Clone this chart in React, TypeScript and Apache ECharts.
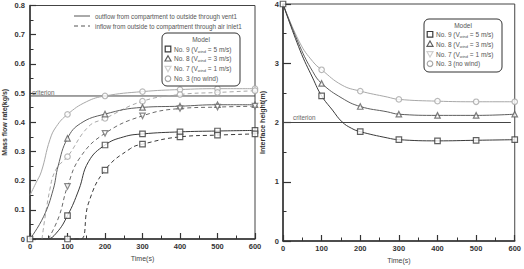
import React, { useEffect, useRef } from "react";
import * as echarts from "echarts";

// ---------- data ----------
const markerTimes = [100, 200, 300, 400, 500, 600];

// Left panel: mass flow rate (kg/s)
const no9OutCurveT = [0, 45, 70, 100, 130, 156, 200, 250, 300, 400, 500, 600];
const no9OutCurveV = [0, 0, 0.02, 0.08, 0.168, 0.265, 0.322, 0.35, 0.36, 0.367, 0.37, 0.372];
const no9InCurveT = [100, 135, 156, 200, 268, 300, 400, 500, 600];
const no9InCurveV = [0, 0, 0.123, 0.236, 0.31, 0.325, 0.35, 0.356, 0.36];
const no8OutCurveT = [0, 36, 62, 75, 100, 135, 200, 300, 400, 500, 600];
const no8OutCurveV = [0, 0.076, 0.17, 0.25, 0.345, 0.396, 0.428, 0.451, 0.455, 0.46, 0.46];
const no7InCurveT = [49, 77, 100, 135, 200, 300, 400, 500, 600];
const no7InCurveV = [0, 0.076, 0.18, 0.282, 0.362, 0.422, 0.447, 0.452, 0.455];
const no3OutCurveT = [0, 15, 30, 53, 70, 100, 150, 200, 300, 400, 500, 600];
const no3OutCurveV = [0.15, 0.19, 0.23, 0.34, 0.385, 0.427, 0.47, 0.49, 0.505, 0.512, 0.515, 0.515];
const no3InCurveT = [32, 53, 70, 100, 156, 200, 300, 400, 500, 600];
const no3InCurveV = [0, 0.17, 0.24, 0.282, 0.385, 0.413, 0.472, 0.495, 0.502, 0.508];

const no9OutMarks = [0.08, 0.322, 0.36, 0.367, 0.37, 0.372];
const no9InMarks = [0, 0.236, 0.325, 0.35, 0.356, 0.36];
const no8OutMarks = [0.345, 0.428, 0.451, 0.455, 0.46, 0.46];
const no7InMarks = [0.18, 0.362, 0.422, 0.447, 0.452, 0.455];
const no3OutMarks = [0.427, 0.49, 0.505, 0.512, 0.515, 0.515];
const no3InMarks = [0.282, 0.413, 0.472, 0.495, 0.502, 0.508];
const criterionFlow = 0.49;

// Right panel: interface height (m)
const no9HeightCurveT = [0, 44, 77, 100, 128, 153, 178, 200, 270, 300, 400, 500, 600];
const no9HeightCurveV = [4, 3.22, 2.75, 2.45, 2.21, 2.01, 1.9, 1.845, 1.74, 1.71, 1.69, 1.7, 1.71];
const no8HeightCurveT = [0, 44, 77, 100, 153, 200, 270, 300, 400, 500, 600];
const no8HeightCurveV = [4, 3.28, 2.86, 2.66, 2.41, 2.27, 2.18, 2.14, 2.12, 2.12, 2.14];
const no3HeightCurveT = [0, 44, 77, 100, 153, 200, 270, 300, 400, 500, 600];
const no3HeightCurveV = [4, 3.34, 3.03, 2.89, 2.63, 2.53, 2.43, 2.39, 2.36, 2.35, 2.35];

const no9HeightMarks = [2.45, 1.845, 1.71, 1.69, 1.7, 1.71];
const no8HeightMarks = [2.66, 2.27, 2.14, 2.12, 2.12, 2.14];
const no3HeightMarks = [2.89, 2.53, 2.39, 2.36, 2.35, 2.35];
const initialHeight = 4;
const criterionHeight = 2;
const criterionHeightEnd = 590;

const modelLabels = [
  "No. 9 (V{s|wind} = 5 m/s)",
  "No. 8 (V{s|wind} = 3 m/s)",
  "No. 7 (V{s|wind} = 1 m/s)",
  "No. 3 (no wind)",
];

// ---------- styling ----------
const FONT = "'Liberation Sans', Arial, sans-serif";
const C9 = "#3a3a3a";
const C8 = "#5e5e5e";
const C7 = "#6a6a6a";
const C3 = "#a8a8a8";
const C7LEG = "#cfcfcf";

const pairs = (t: number[], v: number[]) => t.map((x, i) => [x, v[i]]);

function curve(t: number[], v: number[], color: string, dashed: boolean, ax: number) {
  return {
    type: "line",
    xAxisIndex: ax,
    yAxisIndex: ax,
    data: pairs(t, v),
    showSymbol: false,
    symbol: "none",
    smooth: 0.45,
    lineStyle: { color, width: 1, type: dashed ? [4, 3] : "solid" },
    z: 2,
    silent: true,
  };
}

function marks(t: number[], v: number[], color: string, symbol: string, size: number, ax: number, rotate = 0) {
  return {
    type: "scatter",
    xAxisIndex: ax,
    yAxisIndex: ax,
    data: pairs(t, v),
    symbol,
    symbolSize: size,
    symbolRotate: rotate,
    clip: false,
    itemStyle: { color: "#fff", borderColor: color, borderWidth: 1.2 },
    z: 4,
    silent: true,
  };
}

function xAxis(grid: number, nameGap: number) {
  return {
    gridIndex: grid,
    type: "value",
    min: 0,
    max: 600,
    interval: 100,
    name: "Time(s)",
    nameLocation: "middle",
    nameGap,
    nameTextStyle: { fontSize: 7, color: "#444", fontFamily: FONT },
    axisLine: { show: true, lineStyle: { color: "#333", width: 1.5 } },
    axisTick: { show: true, inside: true, length: 6, lineStyle: { color: "#333", width: 1.2 } },
    minorTick: { show: true, splitNumber: 2, length: 3.5, lineStyle: { color: "#333", width: 1 } },
    axisLabel: { fontSize: 7.5, fontWeight: "bold", color: "#333", margin: 3, fontFamily: FONT },
    splitLine: { show: false },
  };
}

function yAxis(grid: number, max: number, interval: number, name: string, nameGap: number, tickLen: number, labelMargin: number, fmt: (v: number) => string) {
  return {
    gridIndex: grid,
    type: "value",
    min: 0,
    max,
    interval,
    name,
    nameLocation: "middle",
    nameGap,
    nameRotate: 90,
    nameTextStyle: { fontSize: 7, fontWeight: "bold", color: "#333", fontFamily: FONT },
    axisLine: { show: true, lineStyle: { color: "#333", width: 1.5 } },
    axisTick: { show: true, inside: true, length: tickLen, lineStyle: { color: "#333", width: 1.2 } },
    minorTick: { show: true, splitNumber: 2, length: 3.5, lineStyle: { color: "#333", width: 1 } },
    axisLabel: { fontSize: 7.5, fontWeight: "bold", color: "#333", margin: labelMargin, fontFamily: FONT, formatter: fmt },
    splitLine: { show: false },
  };
}

function legendIcon(kind: string, cx: number, cy: number, color: string) {
  const st = { fill: "#fff", stroke: color, lineWidth: 1.2 };
  if (kind === "rect") return { type: "rect", shape: { x: cx - 2.8, y: cy - 2.8, width: 5.6, height: 5.6 }, style: st };
  if (kind === "tri")
    return { type: "polygon", shape: { points: [[cx, cy - 3], [cx + 3, cy + 2.3], [cx - 3, cy + 2.3]] }, style: st };
  if (kind === "itri")
    return { type: "polygon", shape: { points: [[cx, cy + 3], [cx + 3, cy - 2.3], [cx - 3, cy - 2.3]] }, style: st };
  return { type: "circle", shape: { cx, cy, r: 2.8 }, style: st };
}

function modelLegend(x: number, y: number, w: number, h: number, rows: number[], iconX: number, textX: number) {
  const kinds = ["rect", "tri", "itri", "circ"];
  const colors = [C9, C8, C7LEG, C3];
  const els: any[] = [
    { type: "rect", shape: { x, y, width: w, height: h, r: 5 }, style: { fill: "#fff", stroke: "#333", lineWidth: 1 }, z: 10 },
    {
      type: "text",
      x: x + w / 2,
      y: y + 6,
      style: { text: "Model", fontSize: 6.5, fill: "#555", fontFamily: FONT, align: "center", verticalAlign: "middle" },
      z: 11,
    },
  ];
  rows.forEach((ry, i) => {
    els.push({ ...legendIcon(kinds[i], iconX, ry, colors[i]), z: 11 });
    els.push({
      type: "text",
      x: textX,
      y: ry,
      style: {
        text: modelLabels[i],
        fontSize: 6.5,
        fill: "#555",
        fontFamily: FONT,
        align: "left",
        verticalAlign: "middle",
        rich: { s: { fontSize: 4, fill: "#555", fontFamily: FONT, padding: [4, 0, 0, 0] } },
      },
      z: 11,
    });
  });
  return els;
}

export default function App() {
  const ref = useRef<HTMLDivElement>(null);

  useEffect(() => {
    document.body.style.margin = "0";
    const chart = echarts.init(ref.current!, null, { renderer: "svg" });
    const option: any = {
      animation: false,
      backgroundColor: "#fff",
      textStyle: { fontFamily: FONT },
      grid: [
        { left: 21, top: 5.5, width: 234, height: 233.5, show: true, borderColor: "#444", borderWidth: 1, backgroundColor: "transparent" },
        { left: 283, top: 4, width: 238, height: 237, show: true, borderColor: "#444", borderWidth: 1, backgroundColor: "transparent" },
      ],
      xAxis: [xAxis(0, 11.5), xAxis(1, 10.5)],
      yAxis: [
        yAxis(0, 0.8, 0.1, "Mass flow rate(kg/s)", 22, 6, 5, (v: number) => (v === 0 ? "0" : v.toFixed(1))),
        yAxis(1, 4, 1, "Interface height(m)", 17, 8, 4, (v: number) => String(Math.round(v))),
      ],
      series: [
        // left panel criterion
        {
          type: "line",
          xAxisIndex: 0,
          yAxisIndex: 0,
          data: [[0, criterionFlow], [600, criterionFlow]],
          showSymbol: false,
          symbol: "none",
          lineStyle: { color: "#444", width: 1 },
          z: 1,
          silent: true,
        },
        curve(no3OutCurveT, no3OutCurveV, C3, false, 0),
        curve(no3InCurveT, no3InCurveV, C3, true, 0),
        curve(no8OutCurveT, no8OutCurveV, C8, false, 0),
        curve(no7InCurveT, no7InCurveV, C7, true, 0),
        curve(no9OutCurveT, no9OutCurveV, C9, false, 0),
        curve(no9InCurveT, no9InCurveV, C9, true, 0),
        marks(markerTimes, no3OutMarks, C3, "circle", 5.5, 0),
        marks(markerTimes, no3InMarks, C3, "circle", 5.5, 0),
        marks(markerTimes, no8OutMarks, C8, "triangle", 5.5, 0),
        marks(markerTimes, no7InMarks, C7, "triangle", 5.5, 0, 180),
        marks([0, ...markerTimes], [0, ...no9OutMarks], C9, "rect", 5.5, 0),
        marks(markerTimes, no9InMarks, C9, "rect", 5.5, 0),
        // right panel criterion
        {
          type: "line",
          xAxisIndex: 1,
          yAxisIndex: 1,
          data: [[0, criterionHeight], [criterionHeightEnd, criterionHeight]],
          showSymbol: false,
          symbol: "none",
          lineStyle: { color: "#444", width: 1 },
          z: 1,
          silent: true,
        },
        curve(no3HeightCurveT, no3HeightCurveV, C3, false, 1),
        curve(no8HeightCurveT, no8HeightCurveV, C8, false, 1),
        curve(no9HeightCurveT, no9HeightCurveV, C9, false, 1),
        marks(markerTimes, no3HeightMarks, C3, "circle", 5.5, 1),
        marks(markerTimes, no8HeightMarks, C8, "triangle", 5.5, 1),
        marks([0, ...markerTimes], [initialHeight, ...no9HeightMarks], C9, "rect", 5.5, 1),
      ],
      graphic: [
        // line-style legend (left panel)
        { type: "line", shape: { x1: 74, y1: 16, x2: 90, y2: 16 }, style: { stroke: "#555", lineWidth: 1 }, z: 10 },
        {
          type: "text",
          x: 95,
          y: 16,
          style: { text: "outflow from compartment to outside through vent1", fontSize: 6.3, fill: "#555", fontFamily: FONT, verticalAlign: "middle" },
          z: 10,
        },
        { type: "line", shape: { x1: 74, y1: 26, x2: 90, y2: 26 }, style: { stroke: "#555", lineWidth: 1, lineDash: [4, 3] }, z: 10 },
        {
          type: "text",
          x: 95,
          y: 26,
          style: { text: "inflow from outside to compartment through air inlet1", fontSize: 6.3, fill: "#555", fontFamily: FONT, verticalAlign: "middle" },
          z: 10,
        },
        // criterion labels
        { type: "text", x: 32, y: 92, style: { text: "criterion", fontSize: 6.3, fill: "#666", fontFamily: FONT, verticalAlign: "middle" }, z: 10 },
        { type: "text", x: 293, y: 117.5, style: { text: "criterion", fontSize: 6.3, fill: "#666", fontFamily: FONT, verticalAlign: "middle" }, z: 10 },
        ...modelLegend(162, 33, 78, 53, [49, 58.7, 68.7, 78.7], 168, 174),
        ...modelLegend(424, 19, 78, 53, [34.3, 44, 54, 63.7], 430, 436),
      ],
    };
    chart.setOption(option);
    return () => chart.dispose();
  }, []);

  return <div ref={ref} style={{ position: "fixed", left: 0, top: 0, width: 524, height: 269 }} />;
}
